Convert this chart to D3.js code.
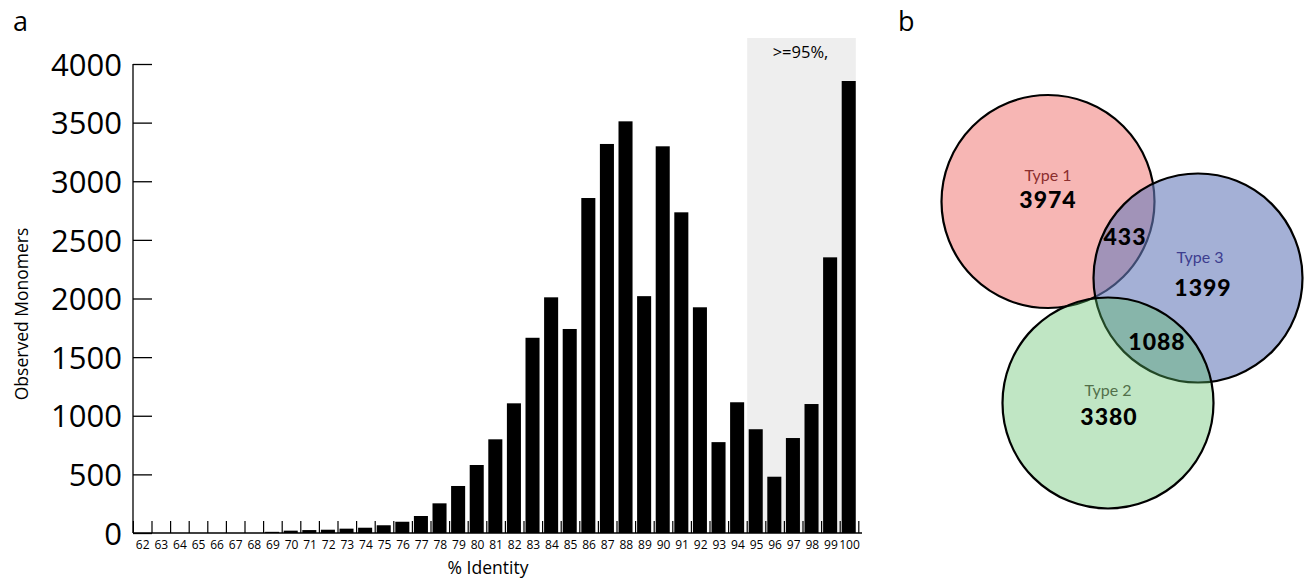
<!DOCTYPE html>
<html>
<head>
<meta charset="utf-8">
<script src="https://cdn.jsdelivr.net/npm/d3@7"></script>
<style>
  body { margin: 0; background: #fff; }
  svg text { font-family: "Open Sans", sans-serif; }
  .venn text { font-family: Lato, sans-serif; }
</style>
</head>
<body>
<svg id="chart" width="1307" height="579"></svg>
<script>
// histogram data, % identity vs observed monomers
var identity = d3.range(62, 101);
var counts = [0, 0, 0, 0, 0, 0, 0, 10, 20, 25, 28, 37, 45, 66, 96, 145,
  253, 401, 580, 799, 1106, 1665, 2010, 1740, 2857, 3318, 3511, 2020, 3298, 2735,
  1925, 775, 1115, 885, 480, 810, 1100, 2351, 3855];
var yTicks = [0, 500, 1000, 1500, 2000, 2500, 3000, 3500, 4000];
var highStart = 95;

// venn data
var vennSets = ["Type 1", "Type 3", "Type 2"];
var vennOnly = [3974, 1399, 3380];
var vennPairs = ["433", "1088"];

var svg = d3.select("#chart");

var x = d3.scaleBand()
  .domain(identity)
  .range([133.4, 858.8]);
var y = d3.scaleLinear()
  .domain([0, 4000])
  .range([533, 64]);

var bw = x.bandwidth();
var shadeW = x(100) + bw * 0.84 - x(highStart);

// grey band for >=95%
svg.append("rect")
  .attr("x", x(highStart))
  .attr("y", 38)
  .attr("width", shadeW)
  .attr("height", y(0) - 38)
  .style("fill", "#eeeeee");

svg.append("text")
  .attr("x", x(highStart) + shadeW / 2 - 1)
  .attr("y", 58)
  .attr("text-anchor", "middle")
  .style("font-size", "16.5px")
  .text(">=95%,");

// bars
svg.append("g")
  .selectAll("rect")
  .data(identity)
  .enter().append("rect")
  .attr("x", function(d) { return x(d) + 1.5; })
  .attr("width", bw * 0.755)
  .attr("y", function(d, i) { return y(counts[i]); })
  .attr("height", function(d, i) { return y(0) - y(counts[i]); })
  .style("fill", "#000");

// y axis
var yAxis = svg.append("g")
  .attr("transform", "translate(133,0)")
  .call(d3.axisLeft(y).tickValues(yTicks).tickFormat(d3.format("d")).tickSize(-19).tickPadding(11));
yAxis.select(".domain").attr("d", "M0," + y(4000) + "V" + y(0)).style("stroke-width", 1.3);
yAxis.selectAll(".tick line").style("stroke-width", 1.3);
yAxis.selectAll("text")
  .style("font-family", "'Open Sans', sans-serif")
  .style("font-size", "31px")
  .attr("dy", "0.36em");

// x axis labels
var xAxis = svg.append("g")
  .attr("transform", "translate(0,533)")
  .call(d3.axisBottom(x).tickSize(0).tickPadding(7));
xAxis.select(".domain").remove();
xAxis.selectAll("text")
  .style("font-family", "'Open Sans', sans-serif")
  .style("font-size", "12px");

// baseline and bin ticks
svg.append("line")
  .attr("x1", 133).attr("x2", 862)
  .attr("y1", y(0)).attr("y2", y(0))
  .style("stroke", "#000").style("stroke-width", 1.3);
svg.append("g")
  .selectAll("line")
  .data(identity.concat([101]))
  .enter().append("line")
  .attr("x1", function(d) { return d > 100 ? x(100) + bw : x(d); })
  .attr("x2", function(d) { return d > 100 ? x(100) + bw : x(d); })
  .attr("y1", y(0))
  .attr("y2", y(0) - 12)
  .style("stroke", "#000").style("stroke-width", 1.2);

svg.append("text")
  .attr("x", 488).attr("y", 574)
  .attr("text-anchor", "middle")
  .style("font-size", "17.5px")
  .text("% Identity");

svg.append("text")
  .attr("transform", "translate(28,314) rotate(-90)")
  .attr("text-anchor", "middle")
  .style("font-size", "17.5px")
  .text("Observed Monomers");

svg.append("text").attr("x", 13).attr("y", 31).style("font-size", "27px").text("a");
svg.append("text").attr("x", 898).attr("y", 31).style("font-size", "27px").text("b");

// venn diagram
var circles = [
  {cx: 1048, cy: 201.5, r: 106.5, color: "#f7b6b4", alpha: 1, label: "#8b2e2e"},
  {cx: 1198, cy: 278, r: 104.5, color: "#a4b0d6", alpha: 0.6, label: "#3d3d8f"},
  {cx: 1108, cy: 403, r: 105.5, color: "#c0e6c4", alpha: 0.38, label: "#52704a"}
];
// base colour so the single region shows the wanted colour on white
function baseColor(c) {
  var rgb = d3.rgb(c.color);
  var f = function(v) { return Math.round((v - (1 - c.alpha) * 255) / c.alpha); };
  return d3.rgb(f(rgb.r), f(rgb.g), f(rgb.b)).toString();
}

var venn = svg.append("g").attr("class", "venn");
venn.selectAll("circle")
  .data(circles)
  .enter().append("circle")
  .attr("cx", function(d) { return d.cx; })
  .attr("cy", function(d) { return d.cy; })
  .attr("r", function(d) { return d.r; })
  .style("fill", baseColor)
  .style("fill-opacity", function(d) { return d.alpha; })
  .style("stroke", "#000")
  .style("stroke-width", 2.2);

var nameY = [181, 263, 396];
var nameX = [1048, 1200, 1108];
var numY = [208, 296, 425];
var numX = [1048, 1203, 1109];
circles.forEach(function(c, i) {
  venn.append("text")
    .attr("x", nameX[i]).attr("y", nameY[i])
    .attr("text-anchor", "middle")
    .style("font-size", "16px")
    .style("fill", c.label)
    .text(vennSets[i]);
  venn.append("text")
    .attr("x", numX[i]).attr("y", numY[i])
    .attr("text-anchor", "middle")
    .style("font-size", "23px")
    .style("font-weight", "900")
    .style("letter-spacing", "1px")
    .text(vennOnly[i]);
});
venn.append("text")
  .attr("x", 1125).attr("y", 245)
  .attr("text-anchor", "middle")
  .style("font-size", "23px").style("font-weight", "900").style("letter-spacing", "1px")
  .text(vennPairs[0]);
venn.append("text")
  .attr("x", 1157).attr("y", 350)
  .attr("text-anchor", "middle")
  .style("font-size", "23px").style("font-weight", "900").style("letter-spacing", "1px")
  .text(vennPairs[1]);
</script>
</body>
</html>
